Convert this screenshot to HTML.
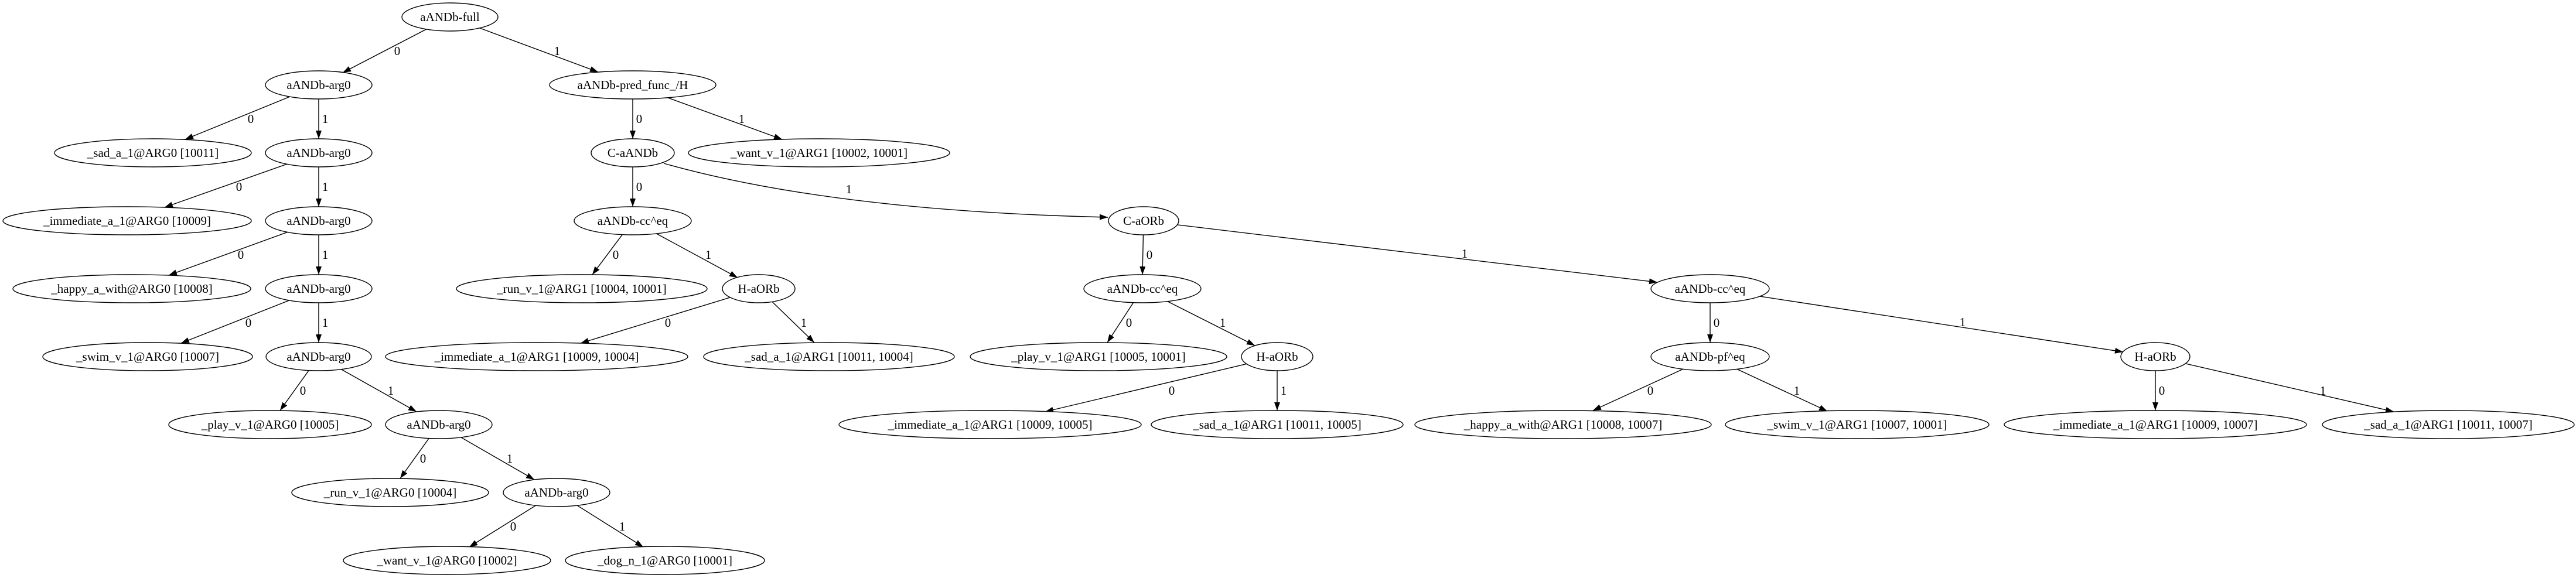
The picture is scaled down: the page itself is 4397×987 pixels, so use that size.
<!DOCTYPE html>
<html><head><meta charset="utf-8"><style>
html,body{margin:0;padding:0;background:#fff;}
svg{display:block;}
text{font-family:"Liberation Serif",serif;font-size:21px;fill:#000;}
</style></head><body>
<svg width="4397" height="987" viewBox="0 0 4397 987" xmlns="http://www.w3.org/2000/svg">
<defs><marker id="ah" markerUnits="userSpaceOnUse" markerWidth="15" markerHeight="11" refX="14" refY="5" orient="auto"><path d="M0,0 L14,5 L0,10 z" fill="#000"/></marker></defs>
<g stroke="#000" stroke-width="1.4" fill="none" marker-end="url(#ah)">
<line x1="768" y1="29" x2="585" y2="124"/>
<line x1="768" y1="29" x2="1021" y2="123"/>
<line x1="544" y1="145" x2="316" y2="238"/>
<line x1="544" y1="145" x2="544" y2="237"/>
<line x1="544" y1="261" x2="281" y2="354"/>
<line x1="544" y1="261" x2="544" y2="353"/>
<line x1="544" y1="377" x2="288" y2="470"/>
<line x1="544" y1="377" x2="544" y2="469"/>
<line x1="544" y1="493" x2="309" y2="586"/>
<line x1="544" y1="493" x2="544" y2="585"/>
<line x1="544" y1="609" x2="478" y2="701"/>
<line x1="544" y1="609" x2="711" y2="703"/>
<line x1="749" y1="725" x2="683" y2="817"/>
<line x1="749" y1="725" x2="912" y2="819"/>
<line x1="950" y1="841" x2="801" y2="934"/>
<line x1="950" y1="841" x2="1098" y2="934"/>
<line x1="1080" y1="145" x2="1080" y2="237"/>
<line x1="1080" y1="145" x2="1335" y2="238"/>
<line x1="1080" y1="261" x2="1080" y2="353"/>
<path d="M1133,279 Q1420,360 1891,371"/>
<line x1="1080" y1="377" x2="1011" y2="469"/>
<line x1="1080" y1="377" x2="1259" y2="474"/>
<line x1="1295" y1="493" x2="991" y2="586"/>
<line x1="1295" y1="493" x2="1390" y2="585"/>
<line x1="1952" y1="377" x2="1950" y2="469"/>
<line x1="1952" y1="377" x2="2829" y2="482"/>
<line x1="1950" y1="493" x2="1890" y2="585"/>
<line x1="1950" y1="493" x2="2142" y2="590"/>
<line x1="2919" y1="493" x2="2919" y2="585"/>
<line x1="2919" y1="493" x2="3624" y2="601"/>
<line x1="2180" y1="609" x2="1784" y2="703"/>
<line x1="2180" y1="609" x2="2180" y2="701"/>
<line x1="2919" y1="609" x2="2719" y2="701"/>
<line x1="2919" y1="609" x2="3119" y2="702"/>
<line x1="3679" y1="609" x2="3679" y2="701"/>
<line x1="3679" y1="609" x2="4086" y2="703"/>
</g>
<g text-anchor="middle">
<text x="678" y="94">0</text><text x="951" y="94">1</text>
<text x="428" y="210">0</text><text x="555" y="210">1</text>
<text x="408" y="326">0</text><text x="555" y="326">1</text>
<text x="411" y="442">0</text><text x="555" y="442">1</text>
<text x="424" y="558">0</text><text x="555" y="558">1</text>
<text x="517" y="674">0</text><text x="667" y="674">1</text>
<text x="722" y="790">0</text><text x="870" y="790">1</text>
<text x="876" y="906">0</text><text x="1062" y="906">1</text>
<text x="1091" y="210">0</text><text x="1266" y="210">1</text>
<text x="1091" y="326">0</text><text x="1449" y="330">1</text>
<text x="1051" y="442">0</text><text x="1209" y="442">1</text>
<text x="1140" y="558">0</text><text x="1372" y="558">1</text>
<text x="1962" y="442">0</text><text x="2500" y="440">1</text>
<text x="1927" y="558">0</text><text x="2087" y="558">1</text>
<text x="2930" y="558">0</text><text x="3350" y="557">1</text>
<text x="2000" y="674">0</text><text x="2191" y="674">1</text>
<text x="2817" y="674">0</text><text x="3067" y="674">1</text>
<text x="3690" y="674">0</text><text x="3965" y="674">1</text>
</g>
<g fill="#fff" stroke="#000" stroke-width="1.4">
<ellipse cx="768" cy="29" rx="82" ry="24"/>
<ellipse cx="544" cy="145" rx="91" ry="24"/>
<ellipse cx="1080" cy="145" rx="142" ry="24"/>
<ellipse cx="261" cy="261" rx="168" ry="24"/>
<ellipse cx="544" cy="261" rx="91" ry="24"/>
<ellipse cx="1080" cy="261" rx="71" ry="24"/>
<ellipse cx="1398" cy="261" rx="223" ry="24"/>
<ellipse cx="217" cy="377" rx="212" ry="24"/>
<ellipse cx="544" cy="377" rx="91" ry="24"/>
<ellipse cx="1080" cy="377" rx="100" ry="24"/>
<ellipse cx="1952" cy="377" rx="60" ry="24"/>
<ellipse cx="225" cy="493" rx="203" ry="24"/>
<ellipse cx="544" cy="493" rx="91" ry="24"/>
<ellipse cx="993" cy="493" rx="214" ry="24"/>
<ellipse cx="1295" cy="493" rx="62" ry="24"/>
<ellipse cx="1950" cy="493" rx="100" ry="24"/>
<ellipse cx="2919" cy="493" rx="101" ry="24"/>
<ellipse cx="252" cy="609" rx="179" ry="24"/>
<ellipse cx="544" cy="609" rx="90" ry="24"/>
<ellipse cx="916" cy="609" rx="258" ry="24"/>
<ellipse cx="1415" cy="609" rx="214" ry="24"/>
<ellipse cx="1875" cy="609" rx="219" ry="24"/>
<ellipse cx="2180" cy="609" rx="61" ry="24"/>
<ellipse cx="2919" cy="609" rx="101" ry="24"/>
<ellipse cx="3679" cy="609" rx="59" ry="24"/>
<ellipse cx="461" cy="725" rx="173" ry="24"/>
<ellipse cx="749" cy="725" rx="91" ry="24"/>
<ellipse cx="1690" cy="725" rx="258" ry="24"/>
<ellipse cx="2180" cy="725" rx="215" ry="24"/>
<ellipse cx="2668" cy="725" rx="253" ry="24"/>
<ellipse cx="3170" cy="725" rx="225" ry="24"/>
<ellipse cx="3679" cy="725" rx="258" ry="24"/>
<ellipse cx="4179" cy="725" rx="215" ry="24"/>
<ellipse cx="666" cy="841" rx="168" ry="24"/>
<ellipse cx="950" cy="841" rx="91" ry="24"/>
<ellipse cx="763" cy="957" rx="177" ry="24"/>
<ellipse cx="1135" cy="957" rx="170" ry="24"/>
</g>
<g text-anchor="middle">
<text x="768" y="36">aANDb-full</text>
<text x="544" y="152">aANDb-arg0</text>
<text x="1080" y="152">aANDb-pred_func_/H</text>
<text x="261" y="268">_sad_a_1@ARG0 [10011]</text>
<text x="544" y="268">aANDb-arg0</text>
<text x="1080" y="268">C-aANDb</text>
<text x="1398" y="268">_want_v_1@ARG1 [10002, 10001]</text>
<text x="217" y="384">_immediate_a_1@ARG0 [10009]</text>
<text x="544" y="384">aANDb-arg0</text>
<text x="1080" y="384">aANDb-cc^eq</text>
<text x="1952" y="384">C-aORb</text>
<text x="225" y="500">_happy_a_with@ARG0 [10008]</text>
<text x="544" y="500">aANDb-arg0</text>
<text x="993" y="500">_run_v_1@ARG1 [10004, 10001]</text>
<text x="1295" y="500">H-aORb</text>
<text x="1950" y="500">aANDb-cc^eq</text>
<text x="2919" y="500">aANDb-cc^eq</text>
<text x="252" y="616">_swim_v_1@ARG0 [10007]</text>
<text x="544" y="616">aANDb-arg0</text>
<text x="916" y="616">_immediate_a_1@ARG1 [10009, 10004]</text>
<text x="1415" y="616">_sad_a_1@ARG1 [10011, 10004]</text>
<text x="1875" y="616">_play_v_1@ARG1 [10005, 10001]</text>
<text x="2180" y="616">H-aORb</text>
<text x="2919" y="616">aANDb-pf^eq</text>
<text x="3679" y="616">H-aORb</text>
<text x="461" y="732">_play_v_1@ARG0 [10005]</text>
<text x="749" y="732">aANDb-arg0</text>
<text x="1690" y="732">_immediate_a_1@ARG1 [10009, 10005]</text>
<text x="2180" y="732">_sad_a_1@ARG1 [10011, 10005]</text>
<text x="2668" y="732">_happy_a_with@ARG1 [10008, 10007]</text>
<text x="3170" y="732">_swim_v_1@ARG1 [10007, 10001]</text>
<text x="3679" y="732">_immediate_a_1@ARG1 [10009, 10007]</text>
<text x="4179" y="732">_sad_a_1@ARG1 [10011, 10007]</text>
<text x="666" y="848">_run_v_1@ARG0 [10004]</text>
<text x="950" y="848">aANDb-arg0</text>
<text x="763" y="964">_want_v_1@ARG0 [10002]</text>
<text x="1135" y="964">_dog_n_1@ARG0 [10001]</text>
</g>
</svg>
</body></html>
